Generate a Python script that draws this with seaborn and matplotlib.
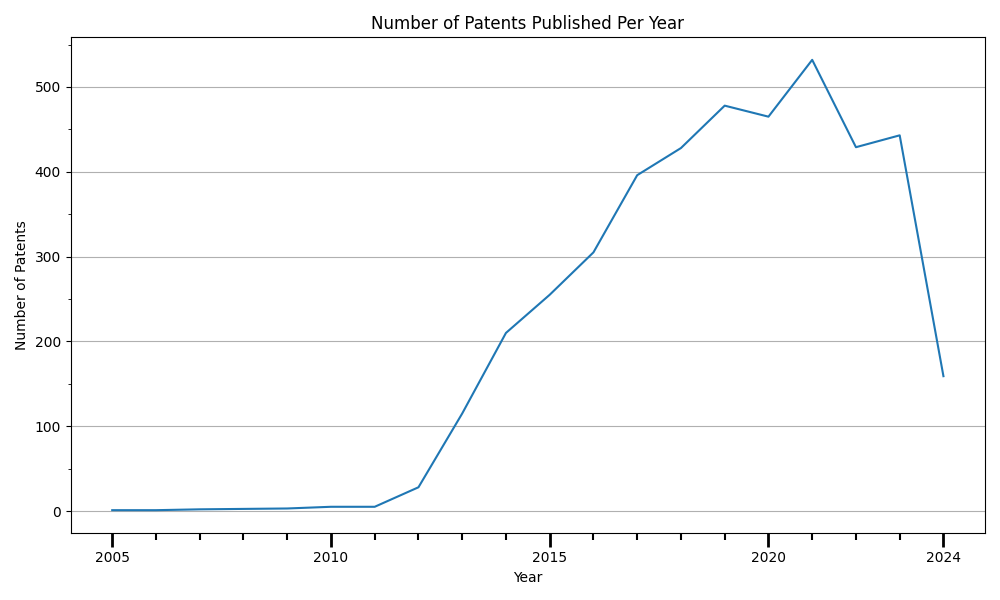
import matplotlib
matplotlib.use("Agg")
import pandas as pd
import seaborn as sns
import matplotlib.pyplot as plt
from matplotlib.ticker import MultipleLocator

years = list(range(2005, 2025))
patents = [1, 1, 2, 2.5, 3, 5, 5, 28, 115, 210, 255, 305, 396, 428, 478, 465, 532, 429, 443, 159]

df = pd.DataFrame({"Year": years, "Number of Patents": patents})

fig, ax = plt.subplots(figsize=(10, 6))
sns.lineplot(data=df, x="Year", y="Number of Patents", ax=ax, color="#1f77b4")
ax.set_title("Number of Patents Published Per Year")
ax.set_xticks([2005, 2010, 2015, 2020, 2024])
ax.xaxis.set_minor_locator(MultipleLocator(1))
ax.yaxis.set_minor_locator(MultipleLocator(50))
ax.tick_params(axis="x", which="major", length=10, width=2)
ax.tick_params(axis="x", which="minor", length=5, width=1.5)
ax.grid(axis="y", which="major", color="#b0b0b0")
plt.tight_layout()
fig.savefig("out.png", dpi=100)
